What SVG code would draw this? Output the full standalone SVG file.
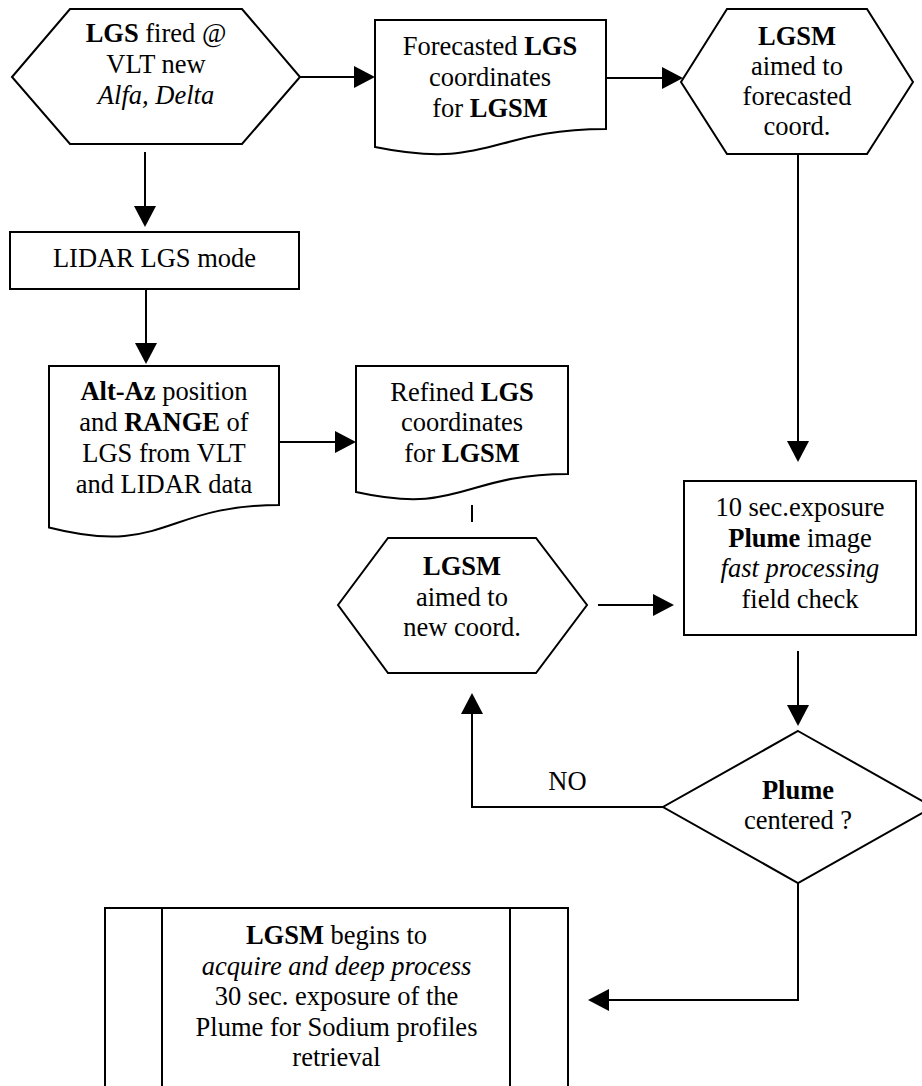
<svg xmlns="http://www.w3.org/2000/svg" width="922" height="1086" viewBox="0 0 922 1086">
<style>
.s{fill:#fff;stroke:#000;stroke-width:2;stroke-linejoin:miter}
.c{fill:none;stroke:#000;stroke-width:2}
.h{fill:#000;stroke:none}
text{font-family:"Liberation Serif","Times New Roman",serif;font-size:26.5px;fill:#000;text-anchor:middle}
.b{font-weight:bold}
.i{font-style:italic}
</style>
<rect width="922" height="1086" fill="#fff"/>
<g id="n-lgs-fired">
<polygon class="s" points="12,77 70,9 242,9 300,77 242,144 70,144"/>
<text x="156" y="42"><tspan class="b">LGS</tspan> fired @</text>
<text x="156" y="73">VLT new</text>
<text x="156" y="104" class="i">Alfa, Delta</text>
</g>
<g id="n-forecasted">
<path class="s" d="M375,20 H606 V129 C490.5,129 490.5,170.5 375,147 Z"/>
<text x="490" y="55">Forecasted <tspan class="b">LGS</tspan></text>
<text x="490" y="86">coordinates</text>
<text x="490" y="117">for <tspan class="b">LGSM</tspan></text>
</g>
<g id="n-lgsm-forecast">
<polygon class="s" points="681,82 727,9 867,9 913,82 867,154 727,154"/>
<text x="797" y="45" class="b">LGSM</text>
<text x="797" y="75">aimed to</text>
<text x="797" y="105">forecasted</text>
<text x="797" y="135">coord.</text>
</g>
<g id="n-lidar">
<rect class="s" x="10" y="232" width="289" height="57"/>
<text x="154.5" y="267">LIDAR LGS mode</text>
</g>
<g id="n-altaz">
<path class="s" d="M49,366 H279 V505 C164,505 164,557 49,527.5 Z"/>
<text x="164" y="400"><tspan class="b">Alt-Az</tspan> position</text>
<text x="164" y="431">and <tspan class="b">RANGE</tspan> of</text>
<text x="164" y="462">LGS from VLT</text>
<text x="164" y="493">and LIDAR data</text>
</g>
<g id="n-refined">
<path class="s" d="M356,366 H568 V474 C462,474 462,515.5 356,492 Z"/>
<text x="462" y="401">Refined <tspan class="b">LGS</tspan></text>
<text x="462" y="431">coordinates</text>
<text x="462" y="462">for <tspan class="b">LGSM</tspan></text>
</g>
<g id="n-lgsm-new">
<polygon class="s" points="338,605 388,538 536,538 587,605 536,673 388,673"/>
<text x="462" y="575" class="b">LGSM</text>
<text x="462" y="606">aimed to</text>
<text x="462" y="636">new coord.</text>
</g>
<g id="n-exposure">
<rect class="s" x="684" y="481" width="232" height="154"/>
<text x="800" y="516">10 sec.exposure</text>
<text x="800" y="547"><tspan class="b">Plume</tspan> image</text>
<text x="800" y="577" class="i">fast processing</text>
<text x="800" y="608">field check</text>
</g>
<g id="n-decision">
<polygon class="s" points="798,731 933,807 798,883 663,807"/>
<text x="798" y="799" class="b">Plume</text>
<text x="798" y="829">centered ?</text>
</g>
<g id="n-acquire">
<rect class="s" x="105" y="908" width="463" height="200"/>
<line class="c" x1="162" y1="908" x2="162" y2="1090"/>
<line class="c" x1="510" y1="908" x2="510" y2="1090"/>
<text x="336.5" y="944"><tspan class="b">LGSM</tspan> begins to</text>
<text x="336.5" y="974.5" class="i">acquire and deep process</text>
<text x="336.5" y="1005">30 sec. exposure of the</text>
<text x="336.5" y="1035.5">Plume for Sodium profiles</text>
<text x="336.5" y="1066">retrieval</text>
</g>
<g id="connectors">
<line class="c" x1="300" y1="77" x2="356" y2="77"/>
<polygon class="h" points="375,77 354,66 354,88"/>
<line class="c" x1="606" y1="78" x2="664" y2="78"/>
<polygon class="h" points="683,78 662,67 662,89"/>
<line class="c" x1="145" y1="152" x2="145" y2="208"/>
<polygon class="h" points="145,227 134,206 156,206"/>
<line class="c" x1="146" y1="289" x2="146" y2="345"/>
<polygon class="h" points="146,364 135,343 157,343"/>
<line class="c" x1="279" y1="442" x2="337" y2="442"/>
<polygon class="h" points="356,442 335,431 335,453"/>
<line class="c" x1="472" y1="505" x2="472" y2="522"/>
<line class="c" x1="798" y1="154" x2="798" y2="442"/>
<polygon class="h" points="798,462 787,441 809,441"/>
<line class="c" x1="598" y1="605" x2="655" y2="605"/>
<polygon class="h" points="674,605 653,594 653,616"/>
<line class="c" x1="798" y1="651" x2="798" y2="707"/>
<polygon class="h" points="798,726 787,705 809,705"/>
<polyline class="c" points="663,807 472,807 472,712"/>
<polygon class="h" points="472,693 461,714 483,714"/>
<polyline class="c" points="798,883 798,1000 607,1000"/>
<polygon class="h" points="588,1000 609,989 609,1011"/>
<text x="567.5" y="790">NO</text>
</g>
</svg>
